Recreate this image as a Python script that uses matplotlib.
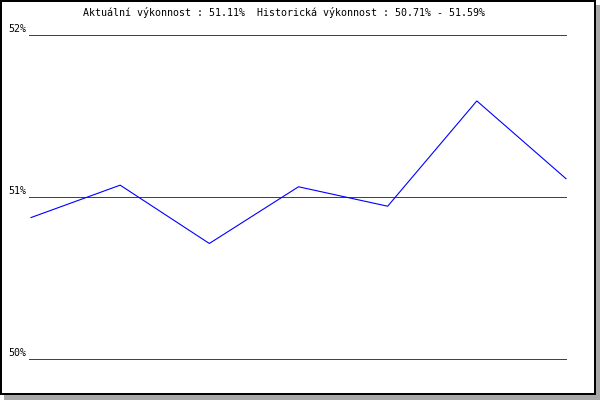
import matplotlib
matplotlib.use("Agg")
import matplotlib.pyplot as plt
from matplotlib.patches import Rectangle

# values (percent)
performance = [50.87, 51.07, 50.71, 51.06, 50.94, 51.59, 51.11]
grid_levels = [50, 51, 52]
grid_labels = ["50%", "51%", "52%"]
title = "Aktuální výkonnost : 51.11%  Historická výkonnost : 50.71% - 51.59%"

W, H = 600, 400
fig = plt.figure(figsize=(6, 4), dpi=100)
fig.patch.set_facecolor("white")

# frame with drop shadow (pixel coords on a background axes)
bg = fig.add_axes([0, 0, 1, 1])
bg.set_xlim(0, W)
bg.set_ylim(H, 0)
bg.axis("off")
bg.add_patch(Rectangle((4, 5), 596, 395, facecolor="#a8a8a8", edgecolor="none"))
bg.add_patch(Rectangle((0, 0), 596, 395, facecolor="black", edgecolor="none"))
bg.add_patch(Rectangle((2, 2), 592, 391, facecolor="white", edgecolor="none"))

# plot area: x 31..566 px, y 52% at 35 px, 50% at 359 px
ax = fig.add_axes([31 / W, 1 - 358.5 / H, 535 / W, 324 / H])
ax.set_xlim(0, len(performance) - 1)
ax.set_ylim(50, 52)
ax.axis("off")

for lvl in grid_levels:
    ax.axhline(lvl, color="#e00000", linewidth=0.72, xmin=-0.004, xmax=1.0,
               antialiased=False, clip_on=False)

ax.plot(range(len(performance)), performance, color="#0000ff",
        linewidth=0.8, clip_on=False)

mono = dict(family="DejaVu Sans Mono", fontsize=7.2, color="black")
for lvl, lab in zip(grid_levels, grid_labels):
    y = 35 + (52 - lvl) * 162
    bg.text(8, y - 1, lab, ha="left", va="bottom", **mono)

bg.text(284, 13, title, ha="center", va="center", **mono)

fig.savefig("out.png", dpi=100)
